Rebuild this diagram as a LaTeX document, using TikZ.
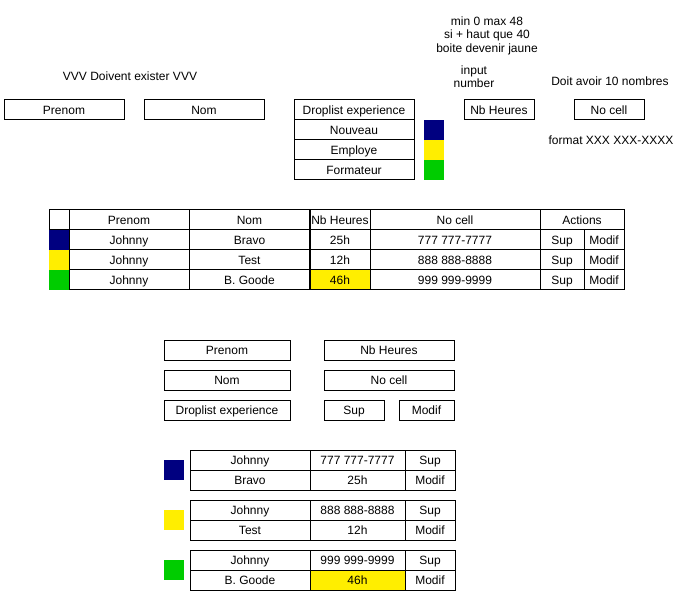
\documentclass[tikz,border=0pt]{standalone}
\usepackage{fontspec}
\setmainfont{Liberation Sans}
\definecolor{navyc}{HTML}{000080}
\definecolor{yel}{HTML}{FFEE00}
\definecolor{grn}{HTML}{00CC00}
\tikzset{
  cell/.style={draw=black, line width=1pt, inner sep=0pt, outer sep=0pt,
    text height=11.3pt, text depth=1.5pt, font=\fontsize{12}{14}\selectfont},
  sq/.style={inner sep=0pt, outer sep=0pt, minimum width=20pt, minimum height=20pt},
  lbl/.style={inner sep=0pt, font=\fontsize{12}{13.5}\selectfont, align=center}
}
\newcommand\mycell[7][]{\node[cell,#1,minimum width={(#4)-(#3)},minimum height={(#6)-(#5)}] (#2) at ({((#3)+(#4))/2},{((#5)+(#6))/2}) {#7};}
\begin{document}
\begin{tikzpicture}[x=1pt,y=-1pt]
\useasboundingbox[fill=white] (0,0) rectangle (681,591);
% ---------- top section ----------
\node[lbl] (must) at (130,76) {VVV Doivent exister VVV};
\mycell{prenomA}{4}{124}{100}{120}{Prenom}
\mycell{nomA}{144}{264}{100}{120}{Nom}
\mycell{dropA}{294}{414}{100}{120}{Droplist experience}
\mycell{nouveau}{294}{414}{120}{140}{Nouveau}
\mycell{employe}{294}{414}{140}{160}{Employe}
\mycell{formateur}{294}{414}{160}{180}{Formateur}
\node[sq, fill=navyc] (sqA1) at (434,130) {};
\node[sq, fill=yel] (sqA2) at (434,150) {};
\node[sq, fill=grn] (sqA3) at (434,170) {};
\node[lbl] (note) at (487,35.5) {min 0 max 48\\si + haut que 40\\boite devenir jaune};
\node[lbl] (inp) at (474,76.5) {input\\number};
\mycell{nbhA}{464}{534}{100}{120}{Nb Heures}
\node[lbl] (doit) at (610,81) {Doit avoir 10 nombres};
\mycell{nocellA}{574}{644}{100}{120}{No cell}
\node[lbl] (fmt) at (611,140) {format XXX XXX-XXXX};
% ---------- table ----------
\node[sq, fill=navyc] (tc1) at (59,240) {};
\node[sq, fill=yel] (tc2) at (59,260) {};
\node[sq, fill=grn] (tc3) at (59,280) {};
\mycell{h0}{49}{69}{210}{230}{}
\mycell{h1}{69}{189}{210}{230}{Prenom}
\mycell{h2}{189}{310}{210}{230}{Nom}
\mycell{h3}{310}{370}{210}{230}{Nb Heures}
\mycell{h4}{370}{540}{210}{230}{No cell}
\mycell{h5}{540}{624}{210}{230}{Actions}
\mycell{aP}{69}{189}{230}{250}{Johnny}
\mycell{aN}{189}{310}{230}{250}{Bravo}
\mycell{aH}{310}{370}{230}{250}{25h}
\mycell{aC}{370}{540}{230}{250}{777 777-7777}
\mycell{aS}{540}{584}{230}{250}{Sup}
\mycell{aM}{584}{624}{230}{250}{Modif}
\mycell{bP}{69}{189}{250}{270}{Johnny}
\mycell{bN}{189}{310}{250}{270}{Test}
\mycell{bH}{310}{370}{250}{270}{12h}
\mycell{bC}{370}{540}{250}{270}{888 888-8888}
\mycell{bS}{540}{584}{250}{270}{Sup}
\mycell{bM}{584}{624}{250}{270}{Modif}
\mycell{cP}{69}{189}{270}{290}{Johnny}
\mycell{cN}{189}{310}{270}{290}{B. Goode}
\mycell[fill=yel]{cH}{310}{370}{270}{290}{46h}
\mycell{cC}{370}{540}{270}{290}{999 999-9999}
\mycell{cS}{540}{584}{270}{290}{Sup}
\mycell{cM}{584}{624}{270}{290}{Modif}
\draw[line width=2pt] (h3.north west) -- (cH.south west);
% ---------- bottom form ----------
\mycell{prenomB}{164}{290}{340}{360}{Prenom}
\mycell{nomB}{164}{290}{370}{390}{Nom}
\mycell{dropB}{164}{290}{400}{420}{Droplist experience}
\mycell{nbhB}{324}{454}{340}{360}{Nb Heures}
\mycell{nocellB}{324}{454}{370}{390}{No cell}
\mycell{supB}{324}{384}{400}{420}{Sup}
\mycell{modifB}{399}{454}{400}{420}{Modif}
% ---------- bottom cards ----------
\node[sq, fill=navyc] (sqB1) at (174,470) {};
\mycell{k1a}{190}{310}{450}{470}{Johnny}
\mycell{k1b}{310}{405}{450}{470}{777 777-7777}
\mycell{k1c}{405}{455}{450}{470}{Sup}
\mycell{k1d}{190}{310}{470}{490}{Bravo}
\mycell{k1e}{310}{405}{470}{490}{25h}
\mycell{k1f}{405}{455}{470}{490}{Modif}
\node[sq, fill=yel] (sqB2) at (174,520) {};
\mycell{k2a}{190}{310}{500}{520}{Johnny}
\mycell{k2b}{310}{405}{500}{520}{888 888-8888}
\mycell{k2c}{405}{455}{500}{520}{Sup}
\mycell{k2d}{190}{310}{520}{540}{Test}
\mycell{k2e}{310}{405}{520}{540}{12h}
\mycell{k2f}{405}{455}{520}{540}{Modif}
\node[sq, fill=grn] (sqB3) at (174,570) {};
\mycell{k3a}{190}{310}{550}{570}{Johnny}
\mycell{k3b}{310}{405}{550}{570}{999 999-9999}
\mycell{k3c}{405}{455}{550}{570}{Sup}
\mycell{k3d}{190}{310}{570}{590}{B. Goode}
\mycell[fill=yel]{k3e}{310}{405}{570}{590}{46h}
\mycell{k3f}{405}{455}{570}{590}{Modif}
\end{tikzpicture}
\end{document}
